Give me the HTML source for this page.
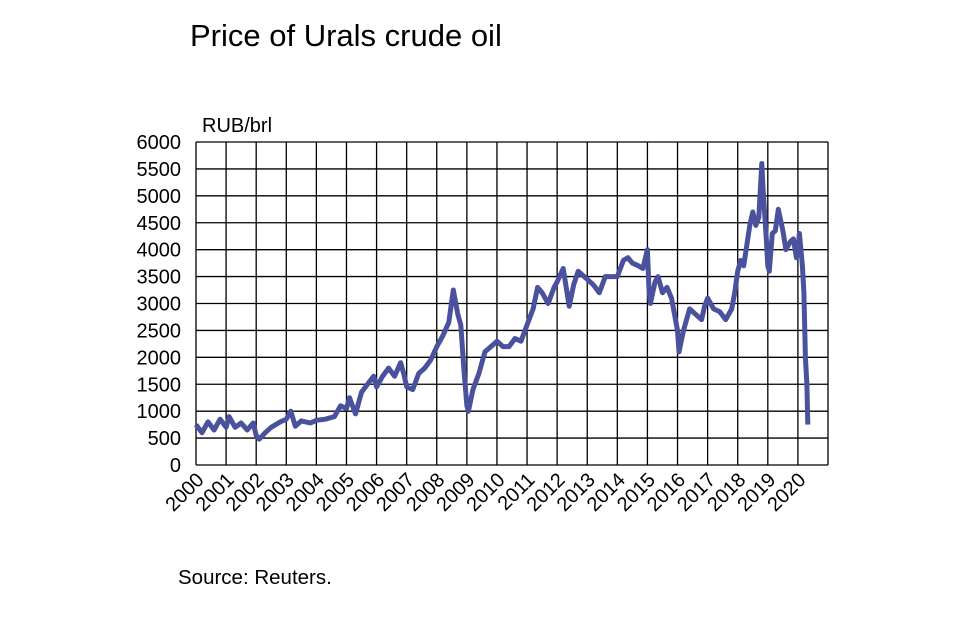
<!DOCTYPE html>
<html><head><meta charset="utf-8"><style>
body{margin:0;background:#fff;}
svg text{font-family:"Liberation Sans",Arial,sans-serif;fill:#000;}
</style></head><body>
<svg width="976" height="638" xmlns="http://www.w3.org/2000/svg">
<text x="190" y="46" font-size="31">Price of Urals crude oil</text>
<text x="202" y="132" font-size="20">RUB/brl</text>
<text x="178" y="584" font-size="20.5">Source: Reuters.</text>
<g id="grid"></g><g id="yt"></g><g id="xt"></g><g id="series"></g>
</svg>
<script>
const yTicks=[0,500,1000,1500,2000,2500,3000,3500,4000,4500,5000,5500,6000];
const years=[2000,2001,2002,2003,2004,2005,2006,2007,2008,2009,2010,2011,2012,2013,2014,2015,2016,2017,2018,2019,2020];
const dates=[2000.0,2000.2,2000.4,2000.6,2000.8,2001.0,2001.1,2001.3,2001.5,2001.7,2001.9,2002.0,2002.1,2002.3,2002.5,2002.8,2003.0,2003.15,2003.3,2003.5,2003.8,2004.0,2004.3,2004.6,2004.8,2005.0,2005.1,2005.3,2005.5,2005.7,2005.9,2006.0,2006.2,2006.4,2006.6,2006.8,2006.9,2007.0,2007.2,2007.4,2007.6,2007.8,2008.0,2008.2,2008.4,2008.55,2008.7,2008.8,2008.9,2009.0,2009.05,2009.2,2009.4,2009.6,2009.8,2010.0,2010.2,2010.4,2010.6,2010.8,2011.0,2011.2,2011.35,2011.5,2011.7,2011.9,2012.0,2012.2,2012.4,2012.55,2012.7,2012.9,2013.0,2013.2,2013.4,2013.6,2013.8,2014.0,2014.2,2014.35,2014.5,2014.7,2014.85,2015.0,2015.05,2015.1,2015.25,2015.35,2015.5,2015.65,2015.8,2016.0,2016.05,2016.2,2016.4,2016.6,2016.8,2016.9,2017.0,2017.2,2017.4,2017.6,2017.8,2017.9,2018.0,2018.1,2018.2,2018.4,2018.5,2018.6,2018.7,2018.8,2018.85,2018.95,2019.0,2019.05,2019.15,2019.25,2019.35,2019.5,2019.6,2019.75,2019.85,2019.95,2020.0,2020.05,2020.15,2020.2,2020.25,2020.3,2020.33];
const prices=[750,600,800,650,850,700,900,700,780,650,780,550,480,600,700,800,850,1000,720,820,780,830,850,900,1100,1050,1250,950,1350,1500,1650,1450,1650,1800,1650,1900,1700,1450,1400,1700,1800,1950,2200,2400,2650,3250,2800,2600,1800,1100,1000,1400,1700,2100,2200,2300,2200,2200,2350,2300,2600,2900,3300,3200,3000,3300,3400,3650,2950,3350,3600,3500,3450,3350,3200,3500,3500,3500,3800,3850,3750,3700,3650,4000,3300,3000,3400,3500,3200,3300,3100,2500,2100,2500,2900,2800,2700,2950,3100,2900,2850,2700,2900,3200,3600,3800,3700,4450,4700,4450,4600,5600,5050,4200,3700,3600,4300,4350,4750,4350,4000,4150,4200,3850,4000,4300,3700,3200,2000,1500,750];
const L=196,R=828,T=142,B=465,X0=2000,X1=2021,YM=6000;
const xs=v=>L+(v-X0)/(X1-X0)*(R-L);
const ys=v=>B-v/YM*(B-T);
const NS='http://www.w3.org/2000/svg';
function mk(t,a,p){const e=document.createElementNS(NS,t);for(const k in a)e.setAttribute(k,a[k]);p.appendChild(e);return e;}
const grid=document.getElementById('grid'),yt=document.getElementById('yt'),xt=document.getElementById('xt'),se=document.getElementById('series');
yTicks.forEach(v=>{
 const l=mk('line',{x1:L,x2:R,y1:ys(v),y2:ys(v),stroke:'#000','stroke-width':1.3},grid);
 
 
 const t=mk('text',{x:181,y:ys(v)+7,'text-anchor':'end','font-size':20},yt);
 t.textContent=v;
 
 
});
for(let y=X0;y<=X1;y++){
 const l=mk('line',{x1:xs(y),x2:xs(y),y1:T,y2:B,stroke:'#000','stroke-width':1.3},grid);
 
 
}
years.forEach(y=>{
 const x=xs(y)+9,yy=B+16;
 const t=mk('text',{x:x,y:yy,'text-anchor':'end','font-size':20,transform:`rotate(-45 ${x} ${yy})`},xt);
 t.textContent=y;
 
 
});
const d=dates.map((v,i)=>(i?'L':'M')+xs(v).toFixed(1)+' '+ys(prices[i]).toFixed(1)).join(' ');
const p=mk('path',{d:d,fill:'none',stroke:'#4a529e','stroke-width':5,'stroke-linejoin':'round'},se);


</script>
</body></html>
